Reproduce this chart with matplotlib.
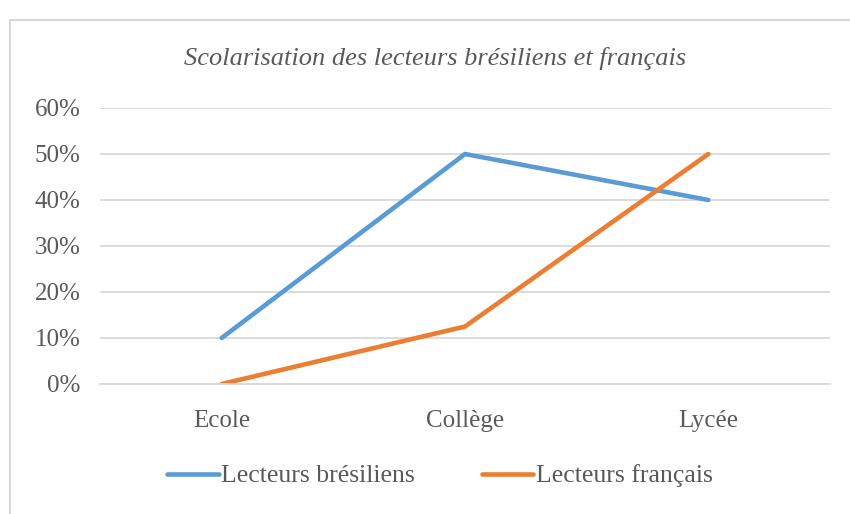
import matplotlib
matplotlib.use('Agg')
import matplotlib.pyplot as plt
from matplotlib.patches import Rectangle
from matplotlib.ticker import PercentFormatter

# Data
categories = ['Ecole', 'Collège', 'Lycée']
bresiliens = [0.10, 0.50, 0.40]
francais = [0.00, 0.125, 0.50]

blue = '#5B9BD5'
orange = '#ED7D31'
text_grey = '#595959'
grid_grey = '#D9D9D9'

plt.rcParams['font.family'] = ['Liberation Serif', 'DejaVu Serif']

fig = plt.figure(figsize=(8.5, 5.14), dpi=100)
ax = fig.add_axes([100 / 850, 1 - 384 / 514, 730 / 850, 276 / 514])

# chart border
fig.patches.append(Rectangle((10 / 850, -0.01), 1.0, 1 - 20 / 514 + 0.01,
                             transform=fig.transFigure, fill=False,
                             edgecolor=grid_grey, linewidth=1.5))

x = range(len(categories))
ax.plot(x, bresiliens, color=blue, linewidth=3.3, solid_capstyle='round',
        label='Lecteurs brésiliens')
ax.plot(x, francais, color=orange, linewidth=3.3, solid_capstyle='round',
        label='Lecteurs français')

ax.set_xlim(-0.5, 2.5)
ax.set_ylim(0, 0.6)
ax.set_yticks([0, 0.1, 0.2, 0.3, 0.4, 0.5, 0.6])
ax.yaxis.set_major_formatter(PercentFormatter(1.0, decimals=0))
ax.set_xticks(list(x))
ax.set_xticklabels(categories)
ax.grid(axis='y', color=grid_grey, linewidth=1.3)
ax.set_axisbelow(True)
for s in ['top', 'right', 'left']:
    ax.spines[s].set_visible(False)
ax.spines['bottom'].set_color(grid_grey)
ax.spines['bottom'].set_linewidth(1.3)
ax.tick_params(axis='both', length=0, labelsize=18, colors=text_grey)
ax.tick_params(axis='y', pad=14)
ax.tick_params(axis='x', pad=19)

fig.text(435 / 850, 1 - 58 / 514, 'Scolarisation des lecteurs brésiliens et français',
         ha='center', va='center', fontsize=19, style='italic', color=text_grey)

fig.legend(loc='center', bbox_to_anchor=(440 / 850, 1 - 476 / 514), ncol=2,
           frameon=False, fontsize=18.5, labelcolor=text_grey, handlelength=2.0,
           handletextpad=0.1, columnspacing=2.6)

fig.savefig('out.png', dpi=100)
